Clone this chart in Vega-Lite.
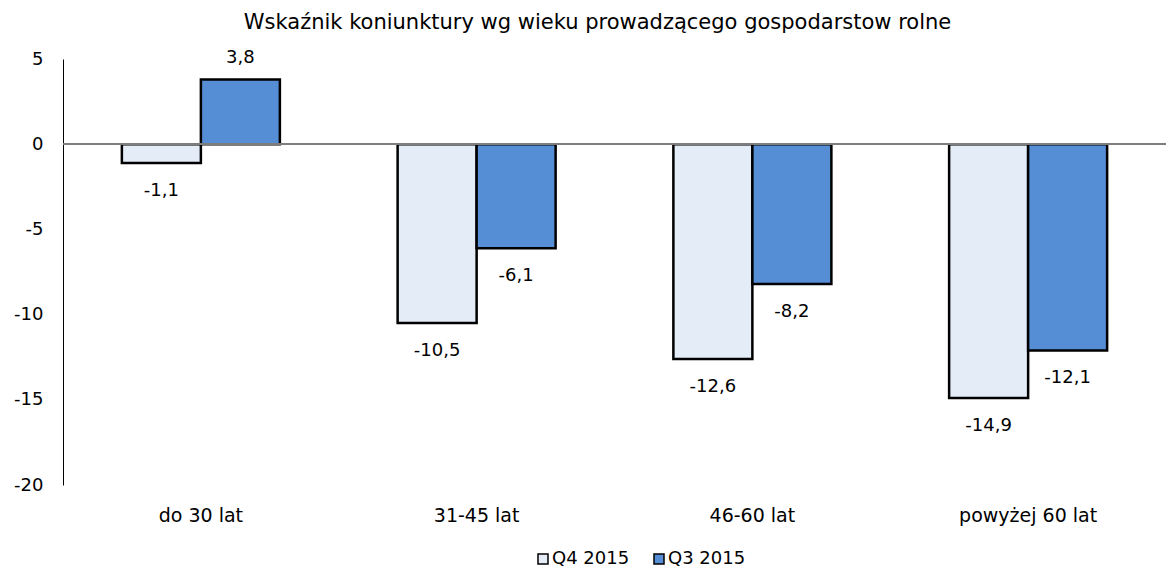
{
  "$schema": "https://vega.github.io/schema/vega-lite/v6.json",
  "autosize": "none",
  "width": 1103,
  "height": 426,
  "padding": {"left": 63, "top": 59, "right": 0, "bottom": 98},
  "background": "white",
  "config": {
    "view": {"stroke": null},
    "font": "DejaVu Sans",
    "locale": {"number": {"decimal": ",", "thousands": " ", "grouping": [3], "currency": ["", " zł"], "minus": "-"}}
  },
  "title": {
    "text": "Wskaźnik koniunktury wg wieku prowadzącego gospodarstow rolne",
    "font": "DejaVu Sans",
    "fontSize": 21,
    "fontWeight": "normal",
    "color": "#000000",
    "anchor": "middle",
    "dx": -17,
    "offset": 16
  },
  "data": {
    "values": [
      {"grupa": "do 30 lat", "okres": "Q4 2015", "wartosc": -1.1},
      {"grupa": "do 30 lat", "okres": "Q3 2015", "wartosc": 3.8},
      {"grupa": "31-45 lat", "okres": "Q4 2015", "wartosc": -10.5},
      {"grupa": "31-45 lat", "okres": "Q3 2015", "wartosc": -6.1},
      {"grupa": "46-60 lat", "okres": "Q4 2015", "wartosc": -12.6},
      {"grupa": "46-60 lat", "okres": "Q3 2015", "wartosc": -8.2},
      {"grupa": "powyżej 60 lat", "okres": "Q4 2015", "wartosc": -14.9},
      {"grupa": "powyżej 60 lat", "okres": "Q3 2015", "wartosc": -12.1}
    ]
  },
  "encoding": {
    "x": {
      "field": "grupa",
      "type": "nominal",
      "sort": ["do 30 lat", "31-45 lat", "46-60 lat", "powyżej 60 lat"],
      "scale": {"paddingInner": 0.427, "paddingOuter": 0.2135},
      "axis": {
        "title": null,
        "domain": false,
        "ticks": false,
        "labelAngle": 0,
        "labelFontSize": 19,
        "labelColor": "#000000",
        "labelPadding": 21
      }
    },
    "xOffset": {
      "field": "okres",
      "type": "nominal",
      "sort": ["Q4 2015", "Q3 2015"],
      "scale": {"paddingInner": 0, "paddingOuter": 0}
    },
    "y": {
      "field": "wartosc",
      "type": "quantitative",
      "scale": {"domain": [-20, 5], "nice": false},
      "axis": {
        "title": null,
        "values": [5, 0, -5, -10, -15, -20],
        "format": "d",
        "grid": false,
        "ticks": false,
        "domain": true,
        "domainColor": "#000000",
        "domainWidth": 1,
        "labelFontSize": 18,
        "labelColor": "#000000",
        "labelPadding": 20
      }
    }
  },
  "layer": [
    {
      "mark": {"type": "bar", "stroke": "#000000", "strokeWidth": 2.5},
      "encoding": {
        "color": {
          "field": "okres",
          "type": "nominal",
          "sort": ["Q4 2015", "Q3 2015"],
          "scale": {"domain": ["Q4 2015", "Q3 2015"], "range": ["#e4ecf8", "#558ed5"]},
          "legend": {
            "title": null,
            "orient": "none",
            "direction": "horizontal",
            "legendX": 471,
            "legendY": 491,
            "symbolType": "square",
            "symbolSize": 100,
            "symbolStrokeColor": "#000000",
            "symbolStrokeWidth": 1.5,
            "labelFontSize": 18,
            "labelColor": "#000000",
            "labelOffset": 0,
            "columnPadding": 20
          }
        }
      }
    },
    {
      "mark": {"type": "rule", "color": "#7f7f7f", "strokeWidth": 1.2},
      "encoding": {"y": {"datum": 0}, "x": {"value": 0}, "x2": {"value": 1103}, "xOffset": null}
    },
    {
      "transform": [{"filter": "datum.wartosc >= 0"}],
      "mark": {"type": "text", "dy": -21, "fontSize": 18, "color": "#000000", "baseline": "middle"},
      "encoding": {"text": {"field": "wartosc", "type": "quantitative", "format": ".1f"}}
    },
    {
      "transform": [{"filter": "datum.wartosc < 0"}],
      "mark": {"type": "text", "dy": 28, "fontSize": 18, "color": "#000000", "baseline": "middle"},
      "encoding": {"text": {"field": "wartosc", "type": "quantitative", "format": ".1f"}}
    }
  ]
}
